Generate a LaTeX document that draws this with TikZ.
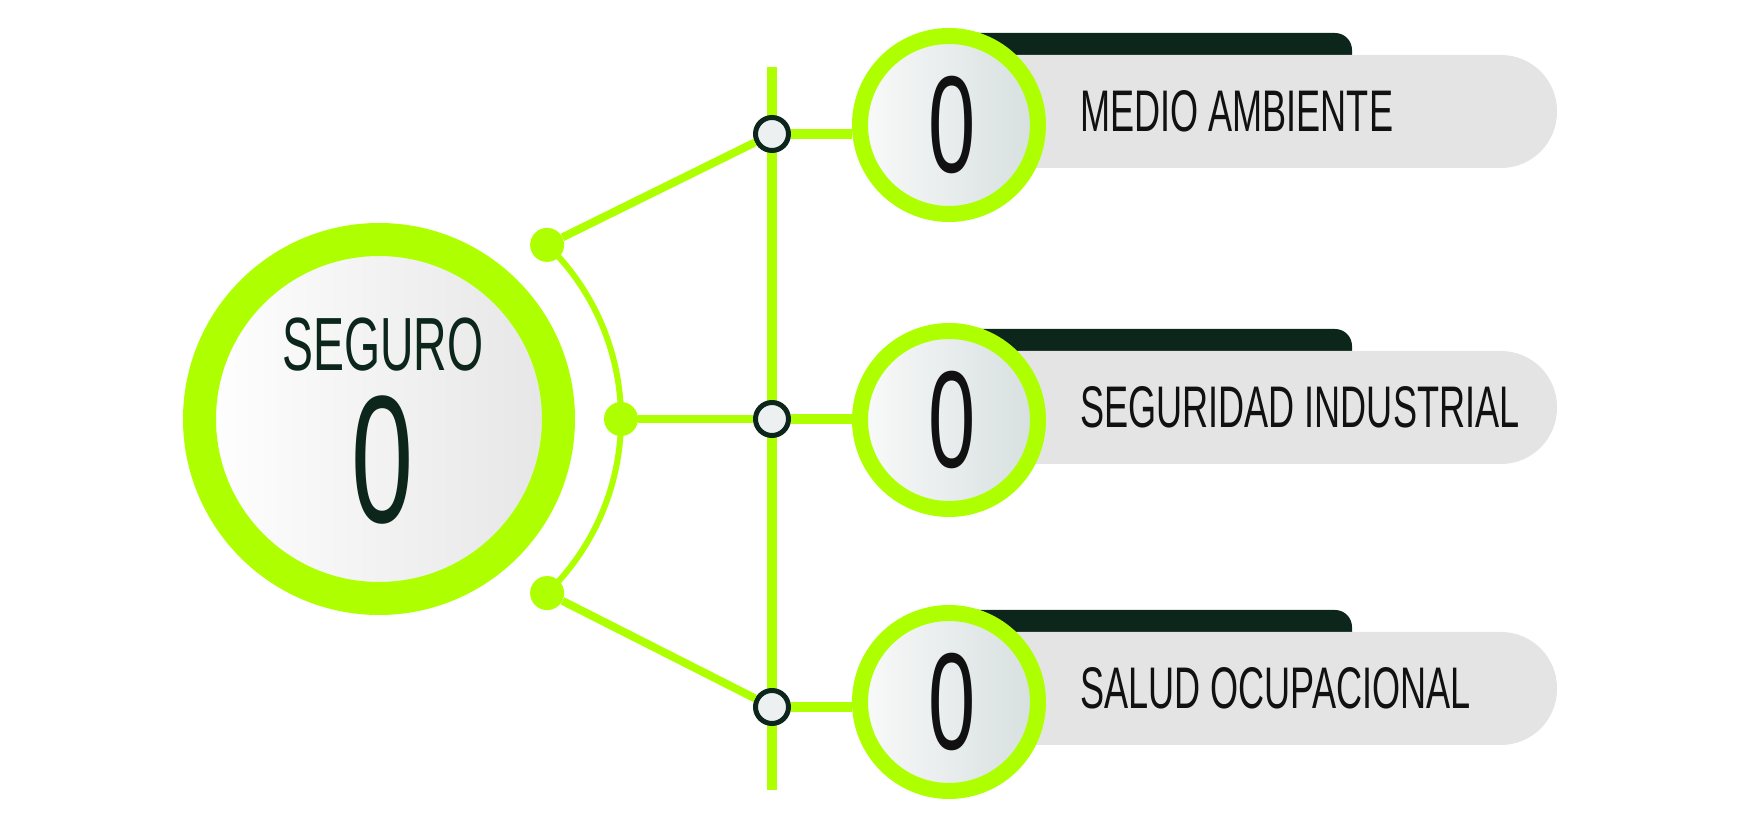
\documentclass[tikz,border=0pt]{standalone}
\usepackage{fontspec}
\usepackage{tikz}
\newfontfamily\condfont[FakeStretch=0.615]{Liberation Sans}

\definecolor{verde}{HTML}{AEFF00}
\definecolor{oscuro}{HTML}{0C261C}
\definecolor{barra}{HTML}{E4E4E4}
\definecolor{punto}{HTML}{ECF0F0}
\definecolor{grisazul}{HTML}{D6DFDF}
\definecolor{texto}{HTML}{111111}

\begin{document}
\begin{tikzpicture}[x=1pt, y=1pt,
	bigring/.style={circle, inner sep=0pt, minimum size=359pt, draw=verde, line width=33pt, left color=white, right color=gray!20},
	numring/.style={circle, inner sep=0pt, minimum size=178pt, draw=verde, line width=16pt, left color=white!96!gray, right color=grisazul},
	joint/.style={circle, inner sep=0pt, minimum size=34pt, fill=verde},
	hub/.style={circle, inner sep=0pt, minimum size=33pt, draw=oscuro, line width=5pt, fill=punto},
	link/.style={verde, line width=8pt},
	tabbox/.style={fill=oscuro, rounded corners=17pt},
	barbox/.style={fill=barra, rounded corners=56pt},
	itemtxt/.style={anchor=west, inner sep=0pt, text=texto, font=\condfont\fontsize{58.7}{60}\selectfont},
	numtxt/.style={inner sep=0pt, text=texto, font=\condfont\fontsize{138}{140}\selectfont}]
	\useasboundingbox (0,0) rectangle (1743,832);

	% Eje vertical
	\coordinate (vtop) at (772,765);
	\coordinate (vbot) at (772,42);
	\draw[verde, line width=10pt] (vtop) -- (vbot);

	% Pestanas y barras grises
	\fill[tabbox] (949,720) |- (1352,799) -- (1352,720) -- cycle;  % Medio ambiente
	\fill[barbox] (949,664) rectangle (1557,777);
	\fill[tabbox] (949,424) |- (1352,503) -- (1352,424) -- cycle;  % Seguridad industrial
	\fill[barbox] (949,368) rectangle (1557,481);
	\fill[tabbox] (949,143) |- (1352,222) -- (1352,143) -- cycle;  % Salud ocupacional
	\fill[barbox] (949,87) rectangle (1557,200);

	% Circulos con contador
	\node[numring] (c1) at (949,707) {};
	\node[numring] (c2) at (949,412) {};
	\node[numring] (c3) at (949,130) {};

	% Circulo principal
	\node[bigring] (seguro) at (379,413) {};
	\draw[verde, line width=6pt] ([shift={(46:242)}]seguro.center) arc[start angle=46, end angle=-46, radius=242];
	\node[joint] (d1) at ([shift={(46:242)}]seguro.center) {};
	\node[joint] (d2) at ([shift={(0:242)}]seguro.center) {};
	\node[joint] (d3) at ([shift={(-46:242)}]seguro.center) {};

	% Nodos sobre el eje
	\node[hub] (r1) at (772,698) {};
	\node[hub] (r2) at (772,413) {};
	\node[hub] (r3) at (772,125) {};

	% Conexiones
	\draw[link] (d1) -- (r1);
	\draw[link] (d2) -- (r2);
	\draw[link] (d3) -- (r3);
	\draw[link, line width=10pt] (r1) -- (r1 -| c1.west);
	\draw[link, line width=10pt] (r2) -- (r2 -| c2.west);
	\draw[link, line width=10pt] (r3) -- (r3 -| c3.west);

	% Textos
	\node[text=oscuro, inner sep=0pt, font=\condfont\fontsize{75.4}{76}\selectfont] (segtxt) at (383,487) {SEGURO};
	\node[text=oscuro, inner sep=0pt, font=\condfont\fontsize{181.6}{182}\selectfont] (segnum) at (383,372) {0};
	\node[numtxt] (n1) at (952,707) {0};
	\node[numtxt] (n2) at (952,412) {0};
	\node[numtxt] (n3) at (952,130) {0};
	\node[itemtxt] (t1) at (1080,720.5) {MEDIO AMBIENTE};
	\node[itemtxt] (t2) at (1080,424.5) {SEGURIDAD INDUSTRIAL};
	\node[itemtxt] (t3) at (1080,143.5) {SALUD OCUPACIONAL};
\end{tikzpicture}
\end{document}
